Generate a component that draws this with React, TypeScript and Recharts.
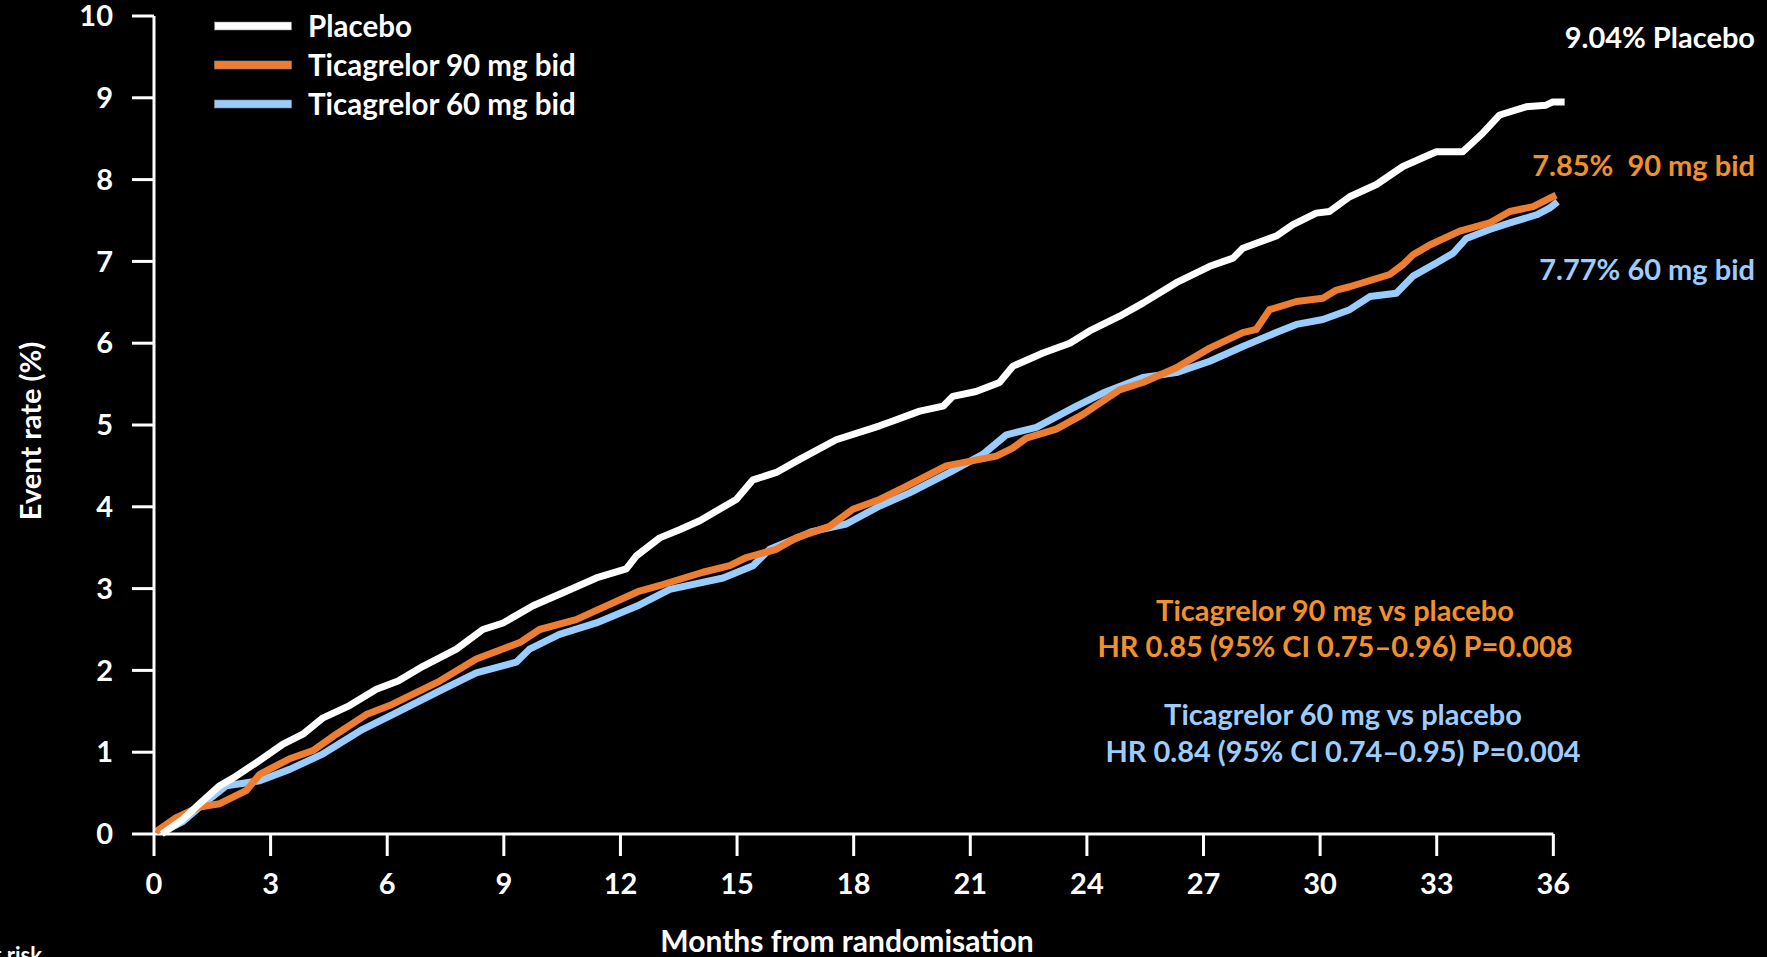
import React from 'react';
import { LineChart, Line, XAxis, YAxis, Legend, ReferenceLine } from 'recharts';

// [month, event rate %]
const placeboPoints: [number, number][] = [
  [0.2, 0.0], [0.74, 0.18], [1.17, 0.37], [1.69, 0.59], [2.12, 0.71], [2.72, 0.9], [3.32, 1.1], [3.83, 1.22],
  [4.35, 1.42], [5.03, 1.57], [5.72, 1.77], [6.28, 1.87], [6.92, 2.05], [7.78, 2.26], [8.46, 2.5], [8.98, 2.58],
  [9.75, 2.79], [10.52, 2.95], [11.38, 3.13], [12.15, 3.24], [12.41, 3.4], [13.01, 3.62], [13.52, 3.72],
  [14.04, 3.83], [14.98, 4.09], [15.41, 4.33], [16.01, 4.42], [16.61, 4.58], [17.55, 4.82], [18.67, 4.99],
  [19.01, 5.05], [19.7, 5.17], [20.3, 5.23], [20.55, 5.35], [21.15, 5.41], [21.75, 5.52], [22.1, 5.72],
  [22.87, 5.88], [23.56, 6.0], [24.07, 6.15], [24.84, 6.33], [25.44, 6.49], [26.3, 6.74], [27.16, 6.94],
  [27.76, 7.04], [28.01, 7.16], [28.87, 7.31], [29.3, 7.45], [29.9, 7.59], [30.24, 7.61], [30.76, 7.79],
  [31.45, 7.94], [32.13, 8.16], [32.99, 8.34], [33.67, 8.34], [34.19, 8.57], [34.62, 8.79], [35.3, 8.89],
  [35.81, 8.91], [35.99, 8.95], [36.29, 8.95],
];

const tica90Points: [number, number][] = [
  [0.05, 0.03], [0.57, 0.2], [1.17, 0.33], [1.69, 0.37], [2.37, 0.53], [2.72, 0.73], [3.49, 0.92], [4.09, 1.02],
  [4.69, 1.22], [5.46, 1.46], [6.06, 1.57], [7.35, 1.87], [8.29, 2.14], [9.41, 2.34], [9.92, 2.5], [10.86, 2.62],
  [11.55, 2.77], [12.49, 2.97], [13.09, 3.05], [14.12, 3.2], [14.81, 3.28], [15.24, 3.38], [16.01, 3.48],
  [16.52, 3.62], [17.38, 3.76], [17.98, 3.97], [18.67, 4.09], [19.35, 4.25], [20.38, 4.5], [21.67, 4.62],
  [22.1, 4.72], [22.44, 4.84], [23.21, 4.95], [23.9, 5.13], [24.84, 5.43], [25.44, 5.52], [26.3, 5.7],
  [27.16, 5.94], [28.01, 6.13], [28.36, 6.17], [28.7, 6.41], [29.39, 6.51], [30.07, 6.55], [30.42, 6.65],
  [30.76, 6.69], [31.79, 6.84], [32.13, 6.96], [32.39, 7.08], [32.82, 7.2], [33.59, 7.37], [34.36, 7.47],
  [34.88, 7.61], [35.48, 7.67], [35.9, 7.77], [36.07, 7.81],
];

const tica60Points: [number, number][] = [
  [0.2, 0.02], [0.74, 0.15], [1.17, 0.33], [1.86, 0.59], [2.72, 0.65], [3.49, 0.79], [4.35, 0.98], [5.37, 1.28],
  [6.06, 1.44], [7.35, 1.75], [8.29, 1.97], [9.32, 2.1], [9.66, 2.26], [10.43, 2.44], [11.38, 2.58],
  [12.49, 2.8], [13.27, 2.99], [14.64, 3.13], [15.41, 3.28], [15.84, 3.48], [16.95, 3.7], [17.81, 3.79],
  [18.67, 4.01], [19.44, 4.17], [20.47, 4.42], [21.32, 4.64], [21.93, 4.88], [22.7, 4.97], [23.73, 5.23],
  [24.41, 5.39], [24.84, 5.47], [25.44, 5.58], [26.3, 5.64], [27.16, 5.78], [28.01, 5.96], [28.87, 6.13],
  [29.39, 6.23], [30.07, 6.29], [30.76, 6.41], [31.28, 6.57], [31.96, 6.61], [32.39, 6.82], [32.99, 6.98],
  [33.42, 7.1], [33.76, 7.28], [34.36, 7.39], [34.88, 7.47], [35.57, 7.57], [35.9, 7.65], [36.11, 7.73],
];

const seriesNames = ['Placebo', 'Ticagrelor 90 mg bid', 'Ticagrelor 60 mg bid'];
const xTicks = [0, 3, 6, 9, 12, 15, 18, 21, 24, 27, 30, 33, 36];
const yTicks = [0, 1, 2, 3, 4, 5, 6, 7, 8, 9, 10];

const toData = (pts: [number, number][]) => pts.map(([m, v]) => ({ m, v }));
const placeboData = toData(placeboPoints);
const tica90Data = toData(tica90Points);
const tica60Data = toData(tica60Points);

const WHITE = '#FFFFFF';
const ORANGE = '#ED7D31';
const BLUE = '#99CCFF';
const ORANGE_TEXT = '#F0902E';
const BLUE_TEXT = '#9DCCFF';
const FONT = 'Lato, "Open Sans", sans-serif';

const tickStyle = { fill: WHITE, fontSize: 29, fontWeight: 700, fontFamily: FONT };

const renderLegend = (props: any) => {
  const payload: any[] = props.payload || [];
  const items = seriesNames.map((n) => payload.find((p) => p.value === n)).filter(Boolean);
  return (
    <div style={{ fontFamily: FONT, fontWeight: 700, fontSize: 29.5, color: WHITE }}>
      {items.map((p: any) => (
        <div key={p.value} style={{ display: 'flex', alignItems: 'center', height: 39, whiteSpace: 'nowrap' }}>
          <svg width={78} height={10} style={{ display: 'block' }}>
            <rect x={0.5} y={1} width={77} height={8} fill={p.color} stroke="#808080" strokeWidth={0.6} />
          </svg>
          <span style={{ marginLeft: 16, lineHeight: '39px' }}>{p.value}</span>
        </div>
      ))}
    </div>
  );
};

export default function App() {
  const textBase = { fontFamily: FONT, fontWeight: 700, fontSize: 29 } as const;
  const lineProps = { type: 'linear' as const, dataKey: 'v', strokeWidth: 7, dot: false, activeDot: false, isAnimationActive: false, strokeLinejoin: 'round' as const };
  return (
    <div style={{ position: 'absolute', left: 0, top: 0, width: 1767, height: 957, background: '#000', overflow: 'hidden' }}>
      <LineChart width={1767} height={957} margin={{ top: 16, right: 202, bottom: 0, left: 0 }}>
        <XAxis
          dataKey="m"
          type="number"
          domain={[0, 36.3]}
          ticks={xTicks}
          interval={0}
          axisLine={false}
          tickLine={{ stroke: WHITE, strokeWidth: 3 }}
          tickSize={22}
          tickMargin={17}
          height={123}
          tick={tickStyle}
        />
        <YAxis
          type="number"
          domain={[0, 10]}
          ticks={yTicks}
          interval={0}
          width={154}
          axisLine={{ stroke: WHITE, strokeWidth: 3 }}
          tickLine={{ stroke: WHITE, strokeWidth: 3 }}
          tickSize={22}
          tickMargin={19}
          tick={tickStyle}
        />
        <ReferenceLine
          segment={[{ x: 0, y: 0 }, { x: 36, y: 0 }]}
          stroke={WHITE}
          strokeWidth={3}
          ifOverflow="visible"
        />
        <Legend
          layout="vertical"
          align="center"
          verticalAlign="middle"
          content={renderLegend}
          wrapperStyle={{ position: 'absolute', left: 214, top: 6, width: 'auto', height: 'auto' }}
        />
        <Line {...lineProps} data={tica60Data} name="Ticagrelor 60 mg bid" stroke={BLUE} />
        <Line {...lineProps} data={tica90Data} name="Ticagrelor 90 mg bid" stroke={ORANGE} />
        <Line {...lineProps} data={placeboData} name="Placebo" stroke={WHITE} />
      </LineChart>
      <svg width={1767} height={957} style={{ position: 'absolute', left: 0, top: 0, pointerEvents: 'none' }}>
        <text {...textBase} x={41} y={431} fill={WHITE} textAnchor="middle" transform="rotate(-90 41 431)">Event rate (%)</text>
        <text {...textBase} fontSize={30} x={847} y={952} fill={WHITE} textAnchor="middle">Months from randomisation</text>
        <text {...textBase} fontSize={22} x={42} y={963} fill={WHITE} textAnchor="end">Patients at risk</text>
        <text {...textBase} x={1755} y={48} fill={WHITE} textAnchor="end">9.04% Placebo</text>
        <text {...textBase} x={1755} y={176} fill={ORANGE_TEXT} textAnchor="end" style={{ whiteSpace: 'pre' }}>{'7.85%  90 mg bid'}</text>
        <text {...textBase} x={1755} y={280} fill={BLUE_TEXT} textAnchor="end">7.77% 60 mg bid</text>
        <text {...textBase} x={1335} y={621} fill={ORANGE_TEXT} textAnchor="middle">Ticagrelor 90 mg vs placebo</text>
        <text {...textBase} x={1335} y={657} fill={ORANGE_TEXT} textAnchor="middle">HR 0.85 (95% CI 0.75–0.96) P=0.008</text>
        <text {...textBase} x={1343} y={725} fill={BLUE_TEXT} textAnchor="middle">Ticagrelor 60 mg vs placebo</text>
        <text {...textBase} x={1343} y={762} fill={BLUE_TEXT} textAnchor="middle">HR 0.84 (95% CI 0.74–0.95) P=0.004</text>
      </svg>
    </div>
  );
}
